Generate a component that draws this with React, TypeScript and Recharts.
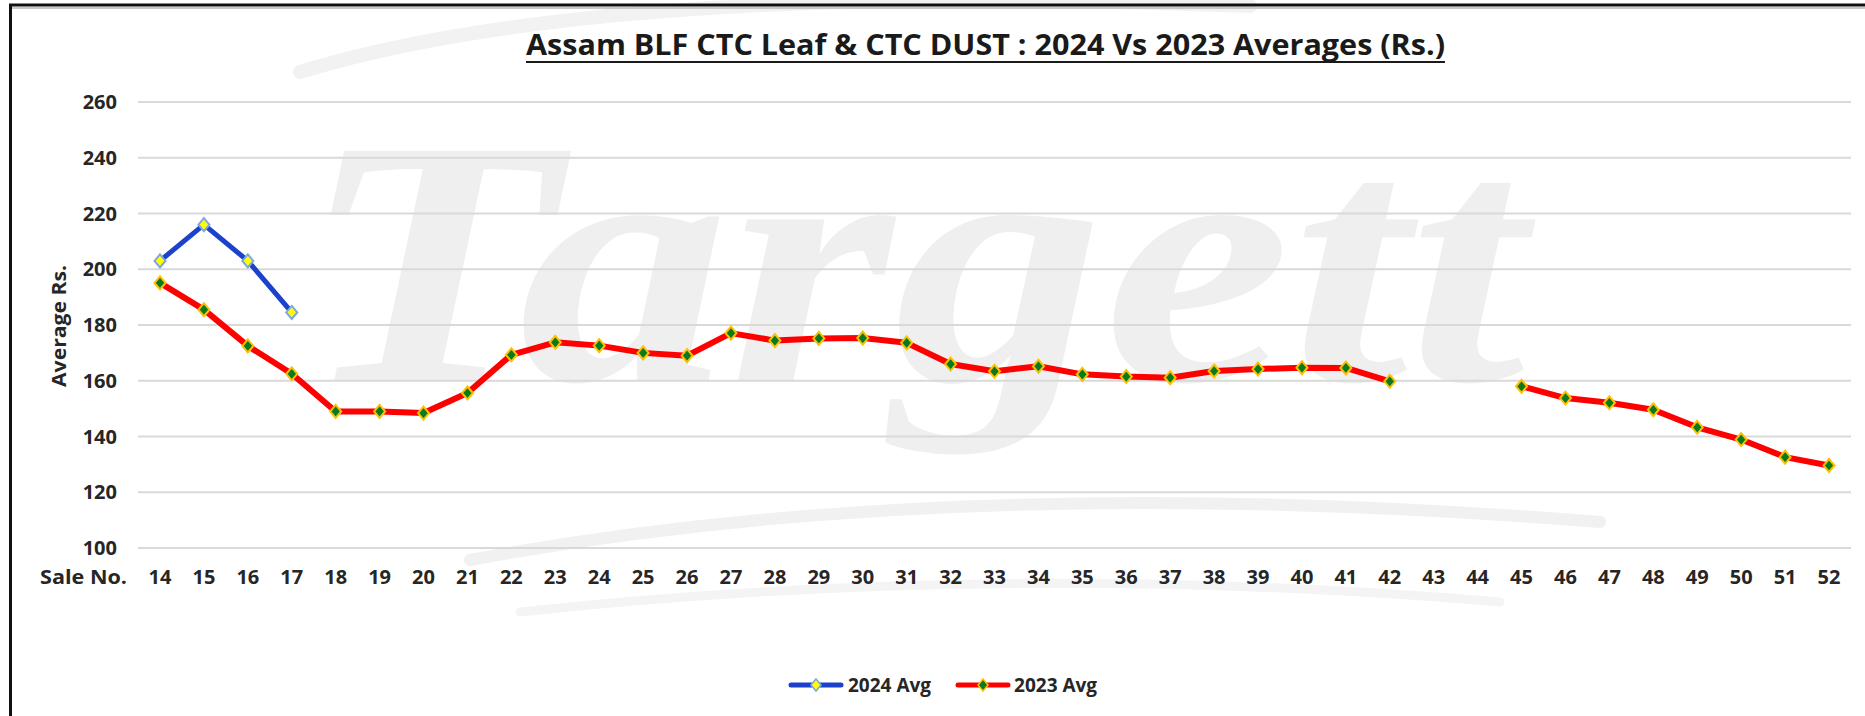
import { CartesianGrid, Legend, Line, LineChart, XAxis, YAxis } from "recharts";

// Sale numbers on the category axis
const saleNumbers = [
  "14", "15", "16", "17", "18", "19", "20", "21", "22", "23", "24", "25", "26",
  "27", "28", "29", "30", "31", "32", "33", "34", "35", "36", "37", "38", "39",
  "40", "41", "42", "43", "44", "45", "46", "47", "48", "49", "50", "51", "52",
];

// 2024 averages (only the first four sales so far)
const avg2024 = [203, 216, 203, 184.5];

// 2023 averages, no sale 43 / 44
const avg2023 = [
  195.1, 185.5, 172.5, 162.5, 149.0, 149.0, 148.4, 155.6, 169.3, 173.8, 172.6, 170.0, 169.0,
  177.1, 174.4, 175.2, 175.3, 173.6, 166.0, 163.4, 165.2, 162.3, 161.5, 161.1, 163.5, 164.2,
  164.7, 164.6, 159.8, null, null, 158.0, 153.8, 152.1, 149.6, 143.3, 138.9, 132.6, 129.6,
];

const yTicks = [100, 120, 140, 160, 180, 200, 220, 240, 260];

const FONT = "'Open Sans', 'DejaVu Sans', sans-serif";
const TEXT = "#262626";
const BLUE = "#1c42cc";
const RED = "#ff0000";

const data = saleNumbers.map((sale, i) => ({
  sale,
  avg2024: avg2024[i] ?? null,
  avg2023: avg2023[i],
}));

const makeDiamond = (fill: string, stroke: string) => (props: any) => {
  const { cx, cy, index } = props;
  if (cx == null || cy == null || props.value == null) {
    return <g key={`empty-${index}`} />;
  }
  const w = 5.5;
  const h = 6.5;
  return (
    <polygon
      key={`dot-${index}`}
      points={`${cx},${cy - h} ${cx + w},${cy} ${cx},${cy + h} ${cx - w},${cy}`}
      fill={fill}
      stroke={stroke}
      strokeWidth={2}
    />
  );
};

const LegendIcon = ({ line, fill, stroke }: { line: string; fill: string; stroke: string }) => (
  <svg width={56} height={16}>
    <line x1={3} y1={8} x2={53} y2={8} stroke={line} strokeWidth={5} strokeLinecap="round" />
    <polygon points="28,2 33,8 28,14 23,8" fill={fill} stroke={stroke} strokeWidth={1.5} />
  </svg>
);

const renderLegend = () => (
  <div
    style={{
      display: "flex",
      alignItems: "center",
      fontFamily: FONT,
      fontWeight: 700,
      fontSize: 19,
      color: TEXT,
      whiteSpace: "nowrap",
    }}
  >
    <LegendIcon line={BLUE} fill="#ffff00" stroke="#7ea6e0" />
    <span style={{ marginLeft: 4 }}>2024 Avg</span>
    <span style={{ marginLeft: 24, display: "flex" }}>
      <LegendIcon line={RED} fill="#0a7a1e" stroke="#ffc000" />
    </span>
    <span style={{ marginLeft: 3 }}>2023 Avg</span>
  </div>
);

export default function App() {
  return (
    <div
      style={{
        position: "absolute",
        left: 0,
        top: 0,
        width: 1865,
        height: 716,
        background: "#ffffff",
        overflow: "hidden",
      }}
    >
      {/* faint watermark */}
      <svg width={1865} height={716} style={{ position: "absolute", left: 0, top: 0 }}>
        <path d="M 300 72 Q 600 -20 1250 6" fill="none" stroke="#f2f2f2" strokeWidth={14} strokeLinecap="round" />
        <path d="M 470 560 Q 950 470 1600 522" fill="none" stroke="#f1f1f1" strokeWidth={12} strokeLinecap="round" />
        <path d="M 520 612 Q 1000 560 1500 602" fill="none" stroke="#f4f4f4" strokeWidth={9} strokeLinecap="round" />
        <text
          x={300}
          y={380}
          fontFamily="'Liberation Serif', 'DejaVu Serif', serif"
          fontStyle="italic"
          fontWeight={700}
          fontSize={350}
          fill="#efefef"
          textLength={1225}
          lengthAdjust="spacingAndGlyphs"
        >
          Targett
        </text>
      </svg>

      <div style={{ position: "absolute", left: 0, top: 0 }}>
        <LineChart
          width={1865}
          height={716}
          data={data}
          margin={{ top: 102, right: 14, bottom: 0, left: 0 }}
        >
          <CartesianGrid vertical={false} stroke="#d9d9d9" strokeWidth={2} />
          <XAxis
            dataKey="sale"
            height={168}
            padding={{ left: 22, right: 22 }}
            axisLine={false}
            tickLine={false}
            tickSize={0}
            tickMargin={22}
            interval={0}
            tick={{ fill: TEXT, fontSize: 20, fontWeight: 700, fontFamily: FONT }}
          />
          <YAxis
            width={138}
            domain={[100, 260]}
            ticks={yTicks}
            interval={0}
            axisLine={false}
            tickLine={false}
            tickSize={0}
            tickMargin={21}
            tick={{ fill: TEXT, fontSize: 20, fontWeight: 700, fontFamily: FONT }}
          />
          <Line
            type="linear"
            dataKey="avg2023"
            name="2023 Avg"
            stroke={RED}
            strokeWidth={6}
            strokeLinejoin="round"
            strokeLinecap="round"
            connectNulls={false}
            dot={makeDiamond("#0a7a1e", "#ffc000")}
            activeDot={false}
            isAnimationActive={false}
          />
          <Line
            type="linear"
            dataKey="avg2024"
            name="2024 Avg"
            stroke={BLUE}
            strokeWidth={5}
            strokeLinejoin="round"
            strokeLinecap="round"
            connectNulls={false}
            dot={makeDiamond("#ffff00", "#7ea6e0")}
            activeDot={false}
            isAnimationActive={false}
          />
          <Legend
            layout="horizontal"
            verticalAlign="middle"
            align="center"
            content={renderLegend}
            wrapperStyle={{ left: 788, top: 672, width: 360, height: 26 }}
          />
        </LineChart>
      </div>

      {/* title, axis captions and frame */}
      <svg
        width={1865}
        height={716}
        style={{ position: "absolute", left: 0, top: 0, pointerEvents: "none" }}
      >
        <line x1={9} y1={5} x2={1865} y2={5} stroke="#111111" strokeWidth={3} />
        <line x1={12} y1={8} x2={1865} y2={8} stroke="#c8c8c8" strokeWidth={2} />
        <line x1={10.5} y1={4} x2={10.5} y2={716} stroke="#111111" strokeWidth={3} />
        <text
          x={985.5}
          y={55}
          textAnchor="middle"
          fontFamily={FONT}
          fontWeight={700}
          fontSize={28}
          fill="#1a1a1a"
          textLength={919}
          lengthAdjust="spacingAndGlyphs"
        >
          Assam BLF CTC Leaf &amp; CTC DUST : 2024 Vs 2023 Averages (Rs.)
        </text>
        <line x1={526} y1={62} x2={1445} y2={62} stroke="#1a1a1a" strokeWidth={2} />
        <text
          x={127}
          y={584}
          textAnchor="end"
          fontFamily={FONT}
          fontWeight={700}
          fontSize={20}
          fill={TEXT}
          textLength={87}
          lengthAdjust="spacingAndGlyphs"
        >
          Sale No.
        </text>
        <text
          transform="translate(66,326) rotate(-90)"
          textAnchor="middle"
          fontFamily={FONT}
          fontWeight={700}
          fontSize={20}
          fill={TEXT}
          textLength={122}
          lengthAdjust="spacingAndGlyphs"
        >
          Average Rs.
        </text>
      </svg>
    </div>
  );
}
